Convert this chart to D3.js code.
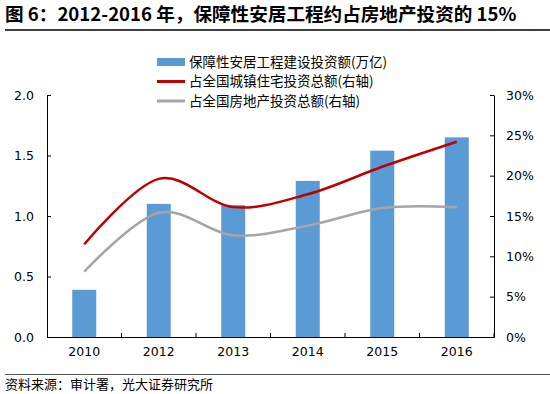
<!DOCTYPE html>
<html>
<head>
<meta charset="utf-8">
<script src="https://cdn.jsdelivr.net/npm/d3@7"></script>
<style>
  body { margin: 0; background: #fff; }
  svg { display: block; }
</style>
</head>
<body>
<svg id="chart" width="550" height="394"></svg>
<script>
// data
var years = ["2010", "2012", "2013", "2014", "2015", "2016"];
var investAmt = [0.39, 1.10, 1.09, 1.29, 1.54, 1.65];          // 万亿
var shareUrbanRes = [0.115, 0.196, 0.161, 0.177, 0.211, 0.242]; // 右轴
var shareRealEst = [0.081, 0.154, 0.126, 0.138, 0.160, 0.161];  // 右轴
var leftTicks = [0, 0.5, 1.0, 1.5, 2.0];
var rightTicks = [0, 0.05, 0.10, 0.15, 0.20, 0.25, 0.30];
var legendNames = ["保障性安居工程建设投资额(万亿)", "占全国城镇住宅投资总额(右轴)", "占全国房地产投资总额(右轴)"];

var cjk = "'Noto Sans CJK SC', 'Noto Sans', sans-serif";
var num = "'DejaVu Sans', sans-serif";

var svg = d3.select("#chart");

// margins
var margin_l = 47, margin_r = 56, margin_t = 95, margin_b = 57;
var W = 550, H = 394;

var xBand = d3.scaleBand().domain(years).range([margin_l, W - margin_r]);

var yLeft = d3.scaleLinear().domain([0, 2]).range([H - margin_b, margin_t]);
var yRight = d3.scaleLinear().domain([0, 0.3]).range([H - margin_b, margin_t]);

// title
svg.append("text")
  .attr("x", 5).attr("y", 21)
  .style("font-family", cjk)
  .style("font-size", "18.6px")
  .style("font-weight", "bold")
  .attr("fill", "#000")
  .text("图 6：2012-2016 年，保障性安居工程约占房地产投资的 15%");

svg.append("line")
  .attr("x1", 5).attr("x2", 550).attr("y1", 30).attr("y2", 30)
  .attr("stroke", "#000").attr("stroke-width", 1.5);

// bars
svg.append("g").selectAll("rect")
  .data(investAmt)
  .enter().append("rect")
  .attr("x", function(d, i) { return xBand(years[i]) + xBand.bandwidth() / 2 - 12; })
  .attr("width", 24)
  .attr("y", function(d) { return yLeft(d); })
  .attr("height", function(d) { return yLeft(0) - yLeft(d); })
  .attr("fill", "#5B9BD5");

// smooth lines
var line = d3.line()
  .x(function(d, i) { return xBand(years[i]) + xBand.bandwidth() / 2; })
  .y(function(d) { return yRight(d); })
  .curve(d3.curveCardinal.tension(0));

svg.append("path")
  .datum(shareRealEst)
  .attr("d", line)
  .attr("fill", "none")
  .attr("stroke", "#A5A5A5")
  .attr("stroke-width", 2.5);

svg.append("path")
  .datum(shareUrbanRes)
  .attr("d", line)
  .attr("fill", "none")
  .attr("stroke", "#C00000")
  .attr("stroke-width", 2.5);

// axes
var gx = svg.append("g")
  .attr("transform", "translate(0," + (H - margin_b) + ")")
  .call(d3.axisBottom(xBand).tickSize(0).tickPadding(10));
gx.selectAll("text").style("font-family", num).style("font-size", "12.5px").attr("fill", "#000");
gx.select(".domain").attr("stroke", "#000");
// category separator ticks pointing up
gx.selectAll(".sep")
  .data(years)
  .enter().append("line")
  .attr("x1", function(d) { return xBand(d) + xBand.bandwidth(); })
  .attr("x2", function(d) { return xBand(d) + xBand.bandwidth(); })
  .attr("y1", 0).attr("y2", -4)
  .attr("stroke", "#000");

var gl = svg.append("g")
  .attr("transform", "translate(" + margin_l + ",0)")
  .call(d3.axisLeft(yLeft).tickValues(leftTicks).tickFormat(d3.format(".1f")).tickSizeInner(-4).tickSizeOuter(0).tickPadding(13));
gl.selectAll("text").style("font-family", num).style("font-size", "12.5px").attr("fill", "#000");
gl.select(".domain").attr("stroke", "#000");
gl.selectAll(".tick line").attr("stroke", "#000");

var gr = svg.append("g")
  .attr("transform", "translate(" + (W - margin_r) + ",0)")
  .call(d3.axisRight(yRight).tickValues(rightTicks).tickFormat(d3.format(".0%")).tickSizeInner(-4).tickSizeOuter(0).tickPadding(12));
gr.selectAll("text").style("font-family", num).style("font-size", "12.5px").attr("fill", "#000");
gr.select(".domain").attr("stroke", "#000");
gr.selectAll(".tick line").attr("stroke", "#000");

// legend
var legend = svg.append("g").attr("transform", "translate(157,62)");
var lg = legend.selectAll("g")
  .data(legendNames)
  .enter().append("g")
  .attr("transform", function(d, i) { return "translate(0," + (i * 19.5) + ")"; });

lg.append("rect")
  .attr("x", 0).attr("width", 28)
  .attr("y", function(d, i) { return i === 0 ? -4 : -1.5; })
  .attr("height", function(d, i) { return i === 0 ? 8 : 3; })
  .attr("fill", function(d, i) { return ["#5B9BD5", "#C00000", "#A5A5A5"][i]; });

lg.append("text")
  .attr("x", 32).attr("y", 0)
  .attr("dy", "0.35em")
  .style("font-family", cjk)
  .style("font-size", "13.5px")
  .attr("fill", "#000")
  .text(function(d) { return d; });

// footer
svg.append("line")
  .attr("x1", 5).attr("x2", 550).attr("y1", 374.5).attr("y2", 374.5)
  .attr("stroke", "#555").attr("stroke-width", 1);

svg.append("text")
  .attr("x", 5).attr("y", 389)
  .style("font-family", cjk)
  .style("font-size", "13px")
  .attr("fill", "#000")
  .text("资料来源：审计署，光大证券研究所");
</script>
</body>
</html>
